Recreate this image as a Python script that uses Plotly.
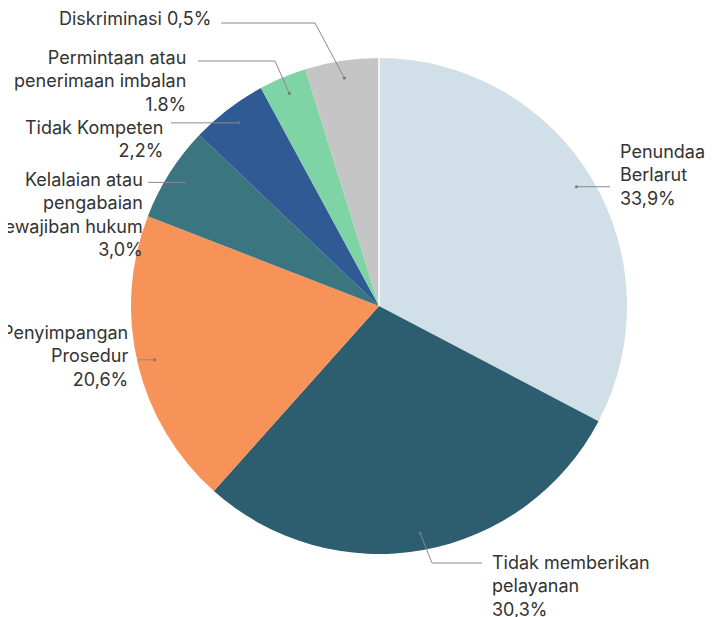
import math
import plotly.graph_objects as go

# ---- data ----
categories = ["Penundaan Berlarut", "Tidak memberikan pelayanan", "Penyimpangan Prosedur",
              "Kelalaian atau pengabaian kewajiban hukum", "Tidak Kompeten",
              "Permintaan atau penerimaan imbalan", "Diskriminasi"]
slice_sizes = [32.7, 28.9, 19.3, 6.2, 5.0, 3.1, 4.8]   # slice sizes as drawn in the picture
label_texts = ["Penundaan<br>Berlarut<br>33,9%",
               "Tidak memberikan<br>pelayanan<br>30,3%",
               "Penyimpangan<br>Prosedur<br>20,6%",
               "Kelalaian atau<br>pengabaian<br>kewajiban hukum<br>3,0%",
               "Tidak Kompeten<br>2,2%",
               "Permintaan atau<br>penerimaan imbalan<br>1.8%",
               "Diskriminasi 0,5%"]
colors = ["#d1dfe8", "#2c5e6f", "#f79258", "#3b7580", "#2f5a94", "#7ed4a5", "#c5c5c5"]

# ---- layout geometry (window pixels; page body has an 8px margin) ----
OFF = 8
W, H = 713 - OFF, 617 - OFF
CX, CY, R = 379, 306, 248
def px(x): return (x - OFF) / W
def py(y): return 1 - (y - OFF) / H

fig = go.Figure(go.Pie(
    labels=categories, values=slice_sizes, sort=False, direction="clockwise", rotation=0,
    marker=dict(colors=colors, line=dict(width=0)),
    textinfo="none", hoverinfo="label+percent", showlegend=False,
    domain=dict(x=[px(CX - R), px(CX + R)], y=[py(CY + R), py(CY - R)]),
))

# dot positions at mid-angle of each slice (computed from the values)
total = sum(slice_sizes)
dots = []
cum = 0
for v in slice_sizes:
    mid = (cum + v / 2) / total * 2 * math.pi
    cum += v
    r = 0.93 * R
    dots.append((CX + r * math.sin(mid), CY - r * math.cos(mid)))

label_pos = [
    (618, 152, "left"),
    (490, 563, "left"),
    (130, 333, "right"),
    (145, 180, "right"),
    (165, 128, "right"),
    (188, 58, "right"),
    (213, 19, "right"),
]
FS = 18
line_col = "#8a8a8a"
annotations = []
shapes = []
for i, (lx, ly, anc) in enumerate(label_pos):
    annotations.append(dict(
        x=px(lx), y=py(ly - 12.7), xref="paper", yref="paper", xanchor=anc, yanchor="top",
        align=anc, text=label_texts[i], showarrow=False,
        font=dict(family="Inter, Roboto, sans-serif", size=FS, color="#333333")))

def seg(p, q, col=line_col, w=1):
    shapes.append(dict(type="line", xref="paper", yref="paper",
                       x0=px(p[0]), y0=py(p[1]), x1=px(q[0]), y1=py(q[1]),
                       line=dict(color=col, width=w)))

# white separator at the start angle (12 o'clock)
seg((CX, CY), (CX, CY - R), col="white", w=1.5)

d = dots
seg(d[0], (610, d[0][1]))
seg(d[1], (432, 563)); seg((432, 563), (482, 563))
seg(d[2], (138, d[2][1]))
seg(d[3], (148, d[3][1]))
seg(d[4], (171, d[4][1]))
seg(d[5], (275, 61)); seg((275, 61), (198, 61))
seg(d[6], (315, 23)); seg((315, 23), (221, 23))

for (x, y) in dots:
    shapes.append(dict(type="circle", xref="paper", yref="paper", xsizemode="pixel", ysizemode="pixel",
                       xanchor=px(x), yanchor=py(y), x0=-1.5, x1=1.5, y0=-1.5, y1=1.5,
                       fillcolor="#6f7a80", line=dict(width=0)))

fig.update_layout(width=W, height=H, margin=dict(l=0, r=0, t=0, b=0),
                  paper_bgcolor="white", plot_bgcolor="white",
                  annotations=annotations, shapes=shapes)
fig.write_html("out.html")
